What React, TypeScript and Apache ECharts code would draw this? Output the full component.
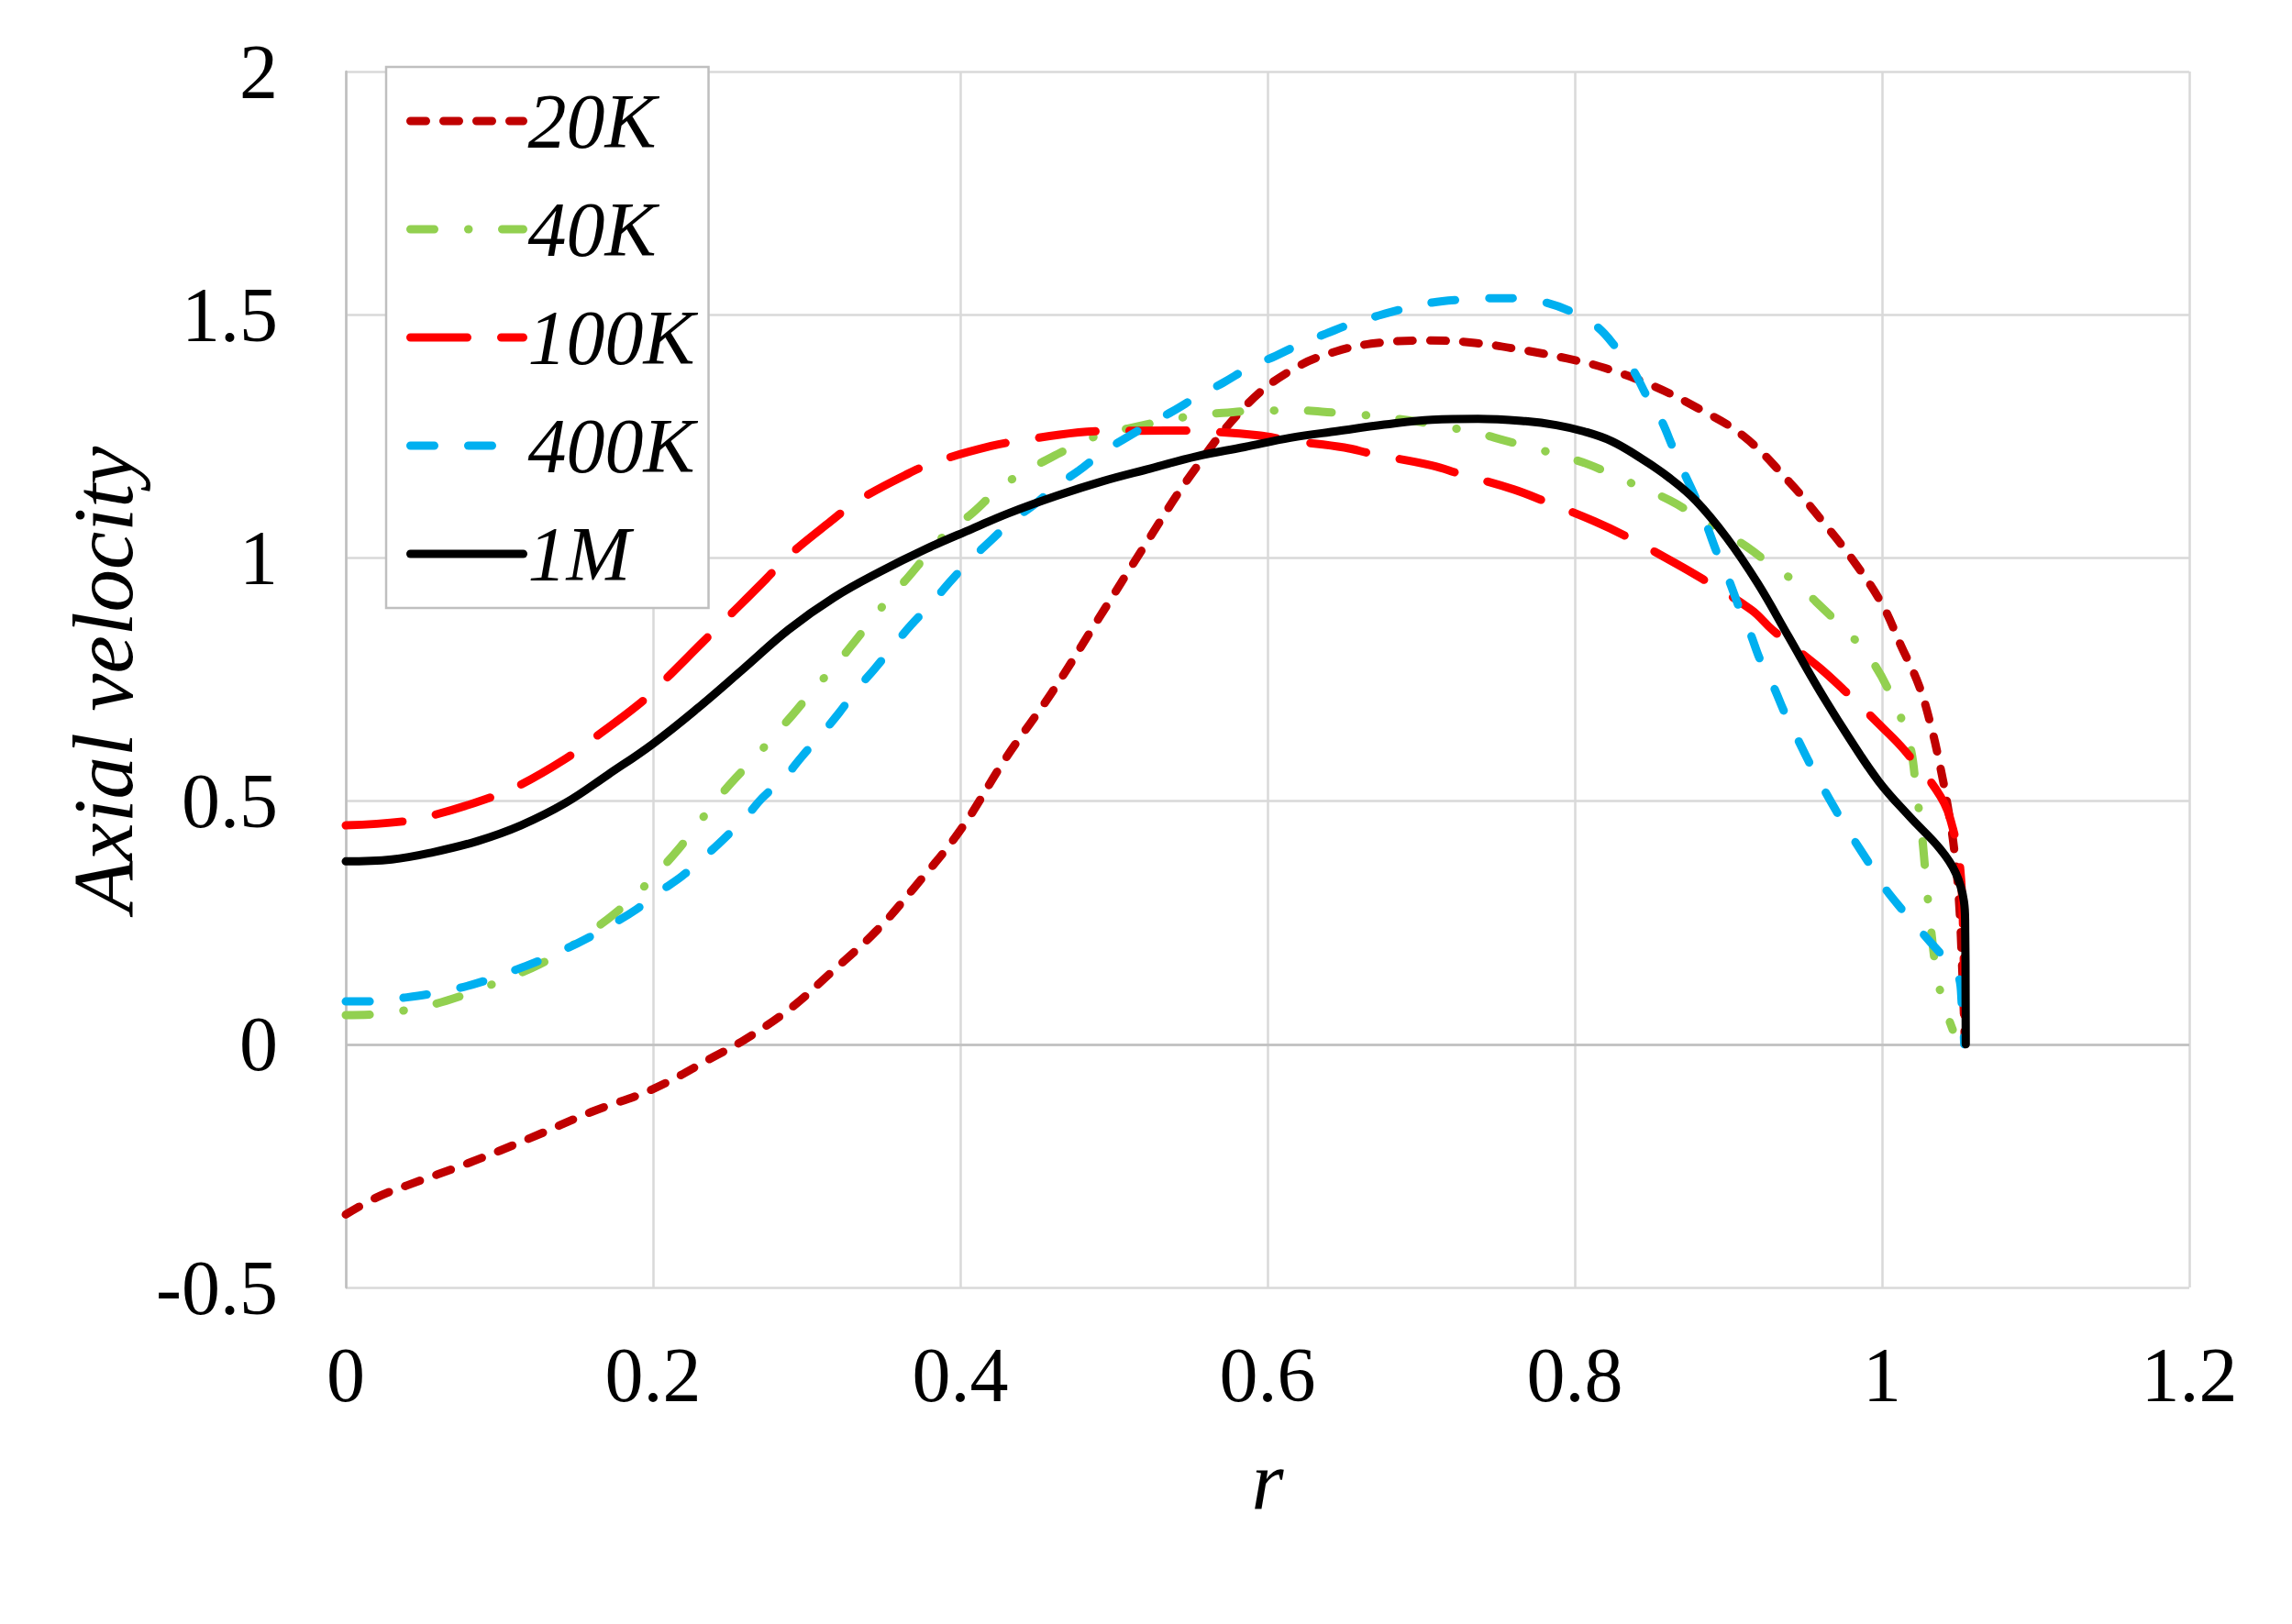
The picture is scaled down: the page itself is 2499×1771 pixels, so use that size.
import React, { useEffect, useRef } from "react";
import * as echarts from "echarts";

// Axial velocity profiles across the radius for five Reynolds numbers.
const seriesNames = ["20K", "40K", "100K", "400K", "1M"];

const profile20K: [number, number][] = [
  [0, -0.35], [0.02, -0.315], [0.04, -0.29], [0.08, -0.244], [0.12, -0.193],
  [0.16, -0.139], [0.2, -0.092], [0.24, -0.025], [0.26, 0.01], [0.29, 0.075],
  [0.315, 0.145], [0.345, 0.232], [0.37, 0.322], [0.4, 0.44], [0.43, 0.59],
  [0.46, 0.725], [0.49, 0.875], [0.52, 1.025], [0.55, 1.17], [0.585, 1.31],
  [0.615, 1.385], [0.645, 1.425], [0.675, 1.443], [0.705, 1.447], [0.735, 1.442],
  [0.765, 1.428], [0.795, 1.41], [0.82, 1.39], [0.85, 1.355], [0.88, 1.308],
  [0.91, 1.25], [0.94, 1.155], [0.96, 1.08], [0.98, 1.0], [1.0, 0.905],
  [1.012, 0.822], [1.024, 0.738], [1.032, 0.653], [1.038, 0.569], [1.043, 0.485],
  [1.047, 0.4], [1.05, 0.3], [1.052, 0.17], [1.054, 0],
];

const profile40K: [number, number][] = [
  [0, 0.06], [0.017, 0.061], [0.037, 0.069], [0.057, 0.082], [0.073, 0.097],
  [0.091, 0.118], [0.111, 0.143], [0.126, 0.164], [0.145, 0.198], [0.161, 0.235],
  [0.174, 0.266], [0.189, 0.308], [0.204, 0.357], [0.216, 0.399], [0.228, 0.448],
  [0.241, 0.5], [0.251, 0.538], [0.266, 0.588], [0.28, 0.639], [0.291, 0.678],
  [0.304, 0.727], [0.318, 0.777], [0.328, 0.815], [0.3415, 0.869], [0.355, 0.922],
  [0.366, 0.96], [0.379, 1.009], [0.393, 1.057], [0.407, 1.09], [0.422, 1.133],
  [0.439, 1.173], [0.454, 1.198], [0.472, 1.227], [0.49, 1.252], [0.509, 1.266],
  [0.547, 1.29], [0.583, 1.301], [0.605, 1.303], [0.621, 1.303], [0.642, 1.299],
  [0.662, 1.294], [0.68, 1.288], [0.7, 1.279], [0.719, 1.268], [0.735, 1.258],
  [0.755, 1.241], [0.774, 1.225], [0.79, 1.211], [0.81, 1.191], [0.827, 1.167],
  [0.844, 1.144], [0.862, 1.118], [0.881, 1.083], [0.894, 1.058], [0.912, 1.023],
  [0.929, 0.982], [0.943, 0.952], [0.957, 0.91], [0.972, 0.864], [0.984, 0.826],
  [0.996, 0.776], [1.006, 0.717], [1.013, 0.666], [1.019, 0.603], [1.022, 0.53],
  [1.026, 0.43], [1.029, 0.326], [1.032, 0.233], [1.036, 0.137], [1.041, 0.075],
  [1.046, 0.03],
];

const profile100K: [number, number][] = [
  [0, 0.45], [0.037, 0.458], [0.057, 0.471], [0.091, 0.504], [0.114, 0.534],
  [0.143, 0.587], [0.16, 0.626], [0.19, 0.697], [0.206, 0.744], [0.2316, 0.8245],
  [0.2466, 0.8716], [0.2734, 0.956], [0.288, 1.0036], [0.316, 1.076], [0.333, 1.1167],
  [0.366, 1.173], [0.385, 1.1985], [0.42, 1.23], [0.439, 1.241], [0.477, 1.258],
  [0.5, 1.261], [0.536, 1.262], [0.56, 1.26], [0.594, 1.252], [0.615, 1.241],
  [0.65, 1.227], [0.668, 1.214], [0.707, 1.19], [0.725, 1.173], [0.76, 1.141],
  [0.78, 1.117], [0.813, 1.075], [0.833, 1.045], [0.865, 0.99], [0.883, 0.957],
  [0.915, 0.893], [0.929, 0.851], [0.959, 0.775], [0.975, 0.729], [1.001, 0.649],
  [1.015, 0.603], [1.038, 0.51], [1.046, 0.445], [1.051, 0.357], [1.053, 0.2],
  [1.054, 0],
];

const profile400K: [number, number][] = [
  [0, 0.088], [0.017, 0.088], [0.036, 0.095], [0.054, 0.103], [0.073, 0.115],
  [0.089, 0.129], [0.107, 0.149], [0.123, 0.168], [0.141, 0.193], [0.156, 0.216],
  [0.174, 0.248], [0.189, 0.277], [0.204, 0.313], [0.219, 0.346], [0.234, 0.387],
  [0.246, 0.422], [0.26, 0.466], [0.271, 0.506], [0.286, 0.55], [0.297, 0.592],
  [0.31, 0.639], [0.321, 0.681], [0.333, 0.731], [0.344, 0.771], [0.357, 0.821],
  [0.368, 0.862], [0.382, 0.909], [0.393, 0.95], [0.407, 0.997], [0.42, 1.036],
  [0.434, 1.077], [0.448, 1.109], [0.463, 1.149], [0.477, 1.179], [0.493, 1.218],
  [0.507, 1.245], [0.524, 1.277], [0.538, 1.301], [0.556, 1.335], [0.571, 1.36],
  [0.589, 1.393], [0.605, 1.415], [0.623, 1.442], [0.638, 1.461], [0.656, 1.483],
  [0.672, 1.498], [0.691, 1.514], [0.707, 1.525], [0.726, 1.531], [0.743, 1.534],
  [0.763, 1.534], [0.78, 1.526], [0.8, 1.503], [0.815, 1.474], [0.828, 1.428],
  [0.838, 1.386], [0.847, 1.332], [0.856, 1.285], [0.864, 1.226], [0.871, 1.176],
  [0.879, 1.121], [0.886, 1.066], [0.893, 1.007], [0.9, 0.957], [0.907, 0.898],
  [0.914, 0.847], [0.921, 0.788], [0.929, 0.738], [0.937, 0.679], [0.945, 0.628],
  [0.954, 0.571], [0.962, 0.525], [0.972, 0.47], [0.981, 0.424], [0.992, 0.37],
  [1.0, 0.329], [1.0135, 0.275], [1.0245, 0.235], [1.038, 0.187], [1.049, 0.147],
  [1.052, 0.08], [1.0535, 0],
];

const profile1M: [number, number][] = [
  [0, 0.376], [0.03, 0.38], [0.057, 0.395], [0.086, 0.418], [0.114, 0.45],
  [0.143, 0.496], [0.171, 0.555], [0.2, 0.618], [0.2287, 0.69], [0.2585, 0.771],
  [0.2884, 0.853], [0.318, 0.919], [0.348, 0.972], [0.378, 1.019], [0.4078, 1.06],
  [0.4316, 1.092], [0.463, 1.128], [0.493, 1.158], [0.524, 1.184], [0.554, 1.209],
  [0.585, 1.228], [0.615, 1.247], [0.646, 1.261], [0.676, 1.274], [0.707, 1.284],
  [0.737, 1.286], [0.768, 1.281], [0.788, 1.273], [0.806, 1.26], [0.824, 1.24],
  [0.843, 1.205], [0.861, 1.166], [0.879, 1.117], [0.899, 1.041], [0.919, 0.948],
  [0.939, 0.839], [0.959, 0.729], [0.979, 0.628], [0.998, 0.54], [1.018, 0.468],
  [1.038, 0.401], [1.048, 0.352], [1.0533, 0.294], [1.0541, 0.25], [1.0545, 0],
];

const profiles = [profile20K, profile40K, profile100K, profile400K, profile1M];
const lineColors = ["#C00000", "#92D050", "#FF0000", "#00B0F0", "#000000"];
const lineWidths = [9, 9, 9, 9, 9];
const lineDashes: (number[] | "solid")[] = [
  [17, 19],
  [26, 37, 0.5, 36.5],
  [62, 37],
  [26, 37],
  "solid",
];

const FONT = "'Liberation Serif', 'Times New Roman', serif";

function lineStyleOf(i: number) {
  return {
    color: lineColors[i],
    width: lineWidths[i],
    type: lineDashes[i],
    cap: "round",
    join: "round",
    opacity: 1,
  };
}

export default function App() {
  const ref = useRef<HTMLDivElement>(null);

  useEffect(() => {
    if (!ref.current) return;
    const chart = echarts.init(ref.current, null, { renderer: "svg" });

    const series = seriesNames.map((name, i) => ({
      name,
      type: "line",
      data: profiles[i],
      showSymbol: false,
      symbol: "none",
      smooth: 0.4,
      z: 3 + i,
      lineStyle: lineStyleOf(i),
      itemStyle: { color: lineColors[i] },
      emphasis: { disabled: true },
      ...(i === 0
        ? {
            markLine: {
              silent: true,
              symbol: "none",
              label: { show: false },
              z: 1,
              lineStyle: { color: "#BFBFBF", width: 2.5, type: "solid" },
              data: [{ yAxis: 0 }],
            },
          }
        : {}),
    }));

    chart.setOption({
      animation: false,
      backgroundColor: "#ffffff",
      grid: { left: 377, top: 78, width: 2010, height: 1326, containLabel: false },
      xAxis: {
        type: "value",
        min: 0,
        max: 1.2,
        interval: 0.2,
        axisLine: { show: false, onZero: false },
        axisTick: { show: false },
        splitLine: { show: true, lineStyle: { color: "#D9D9D9", width: 2.5 } },
        axisLabel: { fontFamily: FONT, fontSize: 84, color: "#000", margin: 53 },
        name: "r",
        nameLocation: "middle",
        nameGap: 165,
        nameTextStyle: { fontFamily: FONT, fontSize: 90, fontStyle: "italic", color: "#000" },
      },
      yAxis: {
        type: "value",
        min: -0.5,
        max: 2,
        interval: 0.5,
        axisLine: { show: true, onZero: false, lineStyle: { color: "#BFBFBF", width: 2.5 } },
        axisTick: { show: false },
        splitLine: { show: true, lineStyle: { color: "#D9D9D9", width: 2.5 } },
        axisLabel: { fontFamily: FONT, fontSize: 84, color: "#000", margin: 74 },
        name: "Axial velocity",
        nameLocation: "middle",
        nameRotate: 90,
        nameGap: 200,
        nameTextStyle: { fontFamily: FONT, fontSize: 93, fontStyle: "italic", color: "#000" },
      },
      legend: {
        orient: "vertical",
        left: 421,
        top: 73,
        padding: [14, 15, 14, 22],
        itemWidth: 123,
        itemHeight: 16,
        itemGap: 28,
        borderColor: "#BFBFBF",
        borderWidth: 2.5,
        backgroundColor: "#ffffff",
        selectedMode: false,
        itemStyle: { opacity: 0 },
        textStyle: {
          fontFamily: FONT,
          fontStyle: "italic",
          fontSize: 84,
          lineHeight: 90,
          color: "#000",
        },
        data: seriesNames.map((name, i) => ({
          name,
          itemStyle: { opacity: 0 },
          lineStyle: lineStyleOf(i),
        })),
      },
      series,
    });

    return () => chart.dispose();
  }, []);

  return (
    <div
      ref={ref}
      style={{ position: "fixed", left: 0, top: 0, width: 2499, height: 1771, background: "#fff" }}
    />
  );
}
